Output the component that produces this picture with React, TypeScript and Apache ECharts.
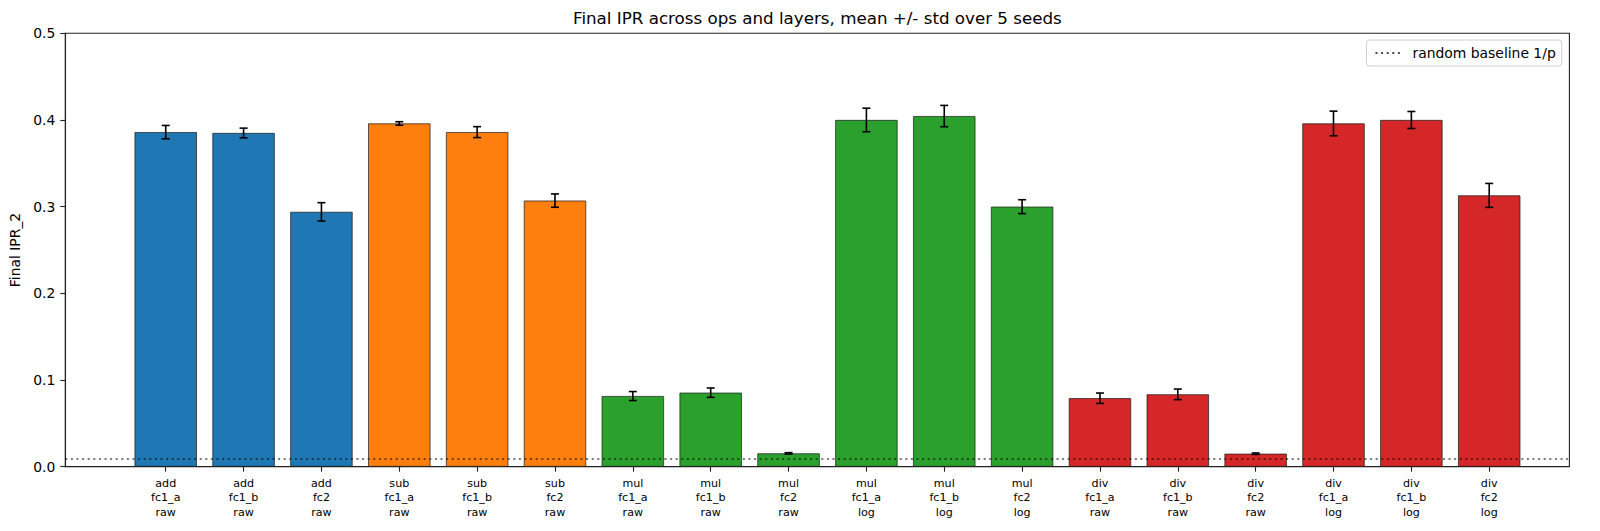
import React, { useEffect, useRef } from "react";
import * as echarts from "echarts";

const categories: string[] = [
  "add\nfc1_a\nraw", "add\nfc1_b\nraw", "add\nfc2\nraw",
  "sub\nfc1_a\nraw", "sub\nfc1_b\nraw", "sub\nfc2\nraw",
  "mul\nfc1_a\nraw", "mul\nfc1_b\nraw", "mul\nfc2\nraw",
  "mul\nfc1_a\nlog", "mul\nfc1_b\nlog", "mul\nfc2\nlog",
  "div\nfc1_a\nraw", "div\nfc1_b\nraw", "div\nfc2\nraw",
  "div\nfc1_a\nlog", "div\nfc1_b\nlog", "div\nfc2\nlog",
];
const ops: string[] = [
  "add", "add", "add", "sub", "sub", "sub",
  "mul", "mul", "mul", "mul", "mul", "mul",
  "div", "div", "div", "div", "div", "div",
];
const means: number[] = [
  0.386, 0.385, 0.294, 0.396, 0.386, 0.307,
  0.0815, 0.0854, 0.0154, 0.400, 0.4045, 0.300,
  0.079, 0.0835, 0.015, 0.396, 0.400, 0.313,
];
const stds: number[] = [
  0.0077, 0.0056, 0.0106, 0.002, 0.0063, 0.0077,
  0.0052, 0.0054, 0.0008, 0.0136, 0.0123, 0.008,
  0.006, 0.0061, 0.0008, 0.0142, 0.0098, 0.0138,
];
const opColors: Record<string, string> = {
  add: "#1f77b4",
  sub: "#ff7f0e",
  mul: "#2ca02c",
  div: "#d62728",
};
const baseline = 1 / 113;
const yTicks: number[] = [0, 0.1, 0.2, 0.3, 0.4, 0.5];

const X_MIN = -1.29;
const X_MAX = 18.03;
const FONT = "DejaVu Sans";

export default function App() {
  const ref = useRef<HTMLDivElement>(null);
  useEffect(() => {
    if (!ref.current) return;
    const chart = echarts.init(ref.current, null, { renderer: "svg" });
    const idx = categories.map((_, i) => i);
    chart.setOption({
      animation: false,
      backgroundColor: "#fff",
      textStyle: { fontFamily: FONT },
      title: {
        text: "Final IPR across ops and layers, mean +/- std over 5 seeds",
        left: 817.4,
        textAlign: "center",
        top: 9,
        padding: 0,
        textStyle: { fontFamily: FONT, fontSize: 16.7, fontWeight: "normal", color: "#000" },
      },
      legend: {
        data: ["random baseline 1/p"],
        right: 38.3,
        top: 40,
        padding: [6, 6, 6, 8],
        itemWidth: 28,
        itemHeight: 14,
        itemStyle: { opacity: 0 },
        backgroundColor: "#fff",
        borderColor: "#d0d0d0",
        borderWidth: 1,
        borderRadius: 3,
        textStyle: { fontFamily: FONT, fontSize: 13.9, color: "#000", padding: [0, 0, 0, 4] },
      },
      grid: {
        left: 65.3,
        right: 30.6,
        top: 33.3,
        bottom: 64.3,
        show: true,
        borderColor: "#222",
        borderWidth: 1.1,
        containLabel: false,
      },
      xAxis: {
        type: "value",
        min: X_MIN,
        max: X_MAX,
        splitLine: { show: false },
        axisLine: { show: true, onZero: false, lineStyle: { color: "#222", width: 1.1 } },
        axisTick: {
          show: true,
          length: 5,
          customValues: idx,
          lineStyle: { color: "#222", width: 1.1 },
        },
        axisLabel: {
          show: true,
          customValues: idx,
          margin: 10,
          fontFamily: FONT,
          fontSize: 11.1,
          lineHeight: 14.2,
          color: "#000",
          formatter: (v: number) => categories[Math.round(v)] ?? "",
        },
      },
      yAxis: {
        type: "value",
        min: 0,
        max: 0.5,
        interval: 0.1,
        name: "Final IPR_2",
        nameLocation: "middle",
        nameGap: 37,
        nameTextStyle: { fontFamily: FONT, fontSize: 13.9, color: "#000" },
        splitLine: { show: false },
        axisLine: { show: true, onZero: false, lineStyle: { color: "#222", width: 1.1 } },
        axisTick: { show: true, length: 5, lineStyle: { color: "#222", width: 1.1 } },
        axisLabel: {
          margin: 10,
          fontFamily: FONT,
          fontSize: 13.9,
          color: "#000",
          formatter: (v: number) => (yTicks.includes(Math.round(v * 10) / 10) ? v.toFixed(1) : ""),
        },
      },
      series: [
        {
          type: "bar",
          name: "bars",
          barWidth: 62.3,
          z: 2,
          data: means.map((m, i) => ({
            value: [i, m],
            itemStyle: { color: opColors[ops[i]], borderColor: "#1a1a1a", borderWidth: 0.7 },
          })),
        },
        {
          type: "custom",
          name: "err",
          z: 5,
          dimensions: ["x", "lo", "hi"],
          encode: { x: 0, y: [1, 2] },
          data: means.map((m, i) => [i, m - stds[i], m + stds[i]]),
          renderItem: (params: any, api: any) => {
            const x = api.value(0);
            const top = api.coord([x, api.value(2)]);
            const bot = api.coord([x, api.value(1)]);
            const cap = 4;
            const w = 1.6;
            const st = { fill: "#000" };
            return {
              type: "group",
              children: [
                { type: "rect", shape: { x: top[0] - w / 2, y: top[1], width: w, height: bot[1] - top[1] }, style: st },
                { type: "rect", shape: { x: top[0] - cap, y: top[1] - w / 2, width: cap * 2, height: w }, style: st },
                { type: "rect", shape: { x: bot[0] - cap, y: bot[1] - w / 2, width: cap * 2, height: w }, style: st },
              ],
            };
          },
        },
        {
          type: "line",
          name: "random baseline 1/p",
          z: 6,
          symbol: "none",
          showSymbol: false,
          data: [
            [X_MIN, baseline],
            [X_MAX, baseline],
          ],
          lineStyle: { color: "rgba(0,0,0,0.7)", width: 1.6, type: [2, 3.6] },
          itemStyle: { color: "rgba(0,0,0,0.7)" },
        },
      ],
    });
    return () => chart.dispose();
  }, []);
  return (
    <div
      ref={ref}
      style={{ position: "fixed", left: 0, top: 0, width: 1600, height: 531 }}
    />
  );
}
